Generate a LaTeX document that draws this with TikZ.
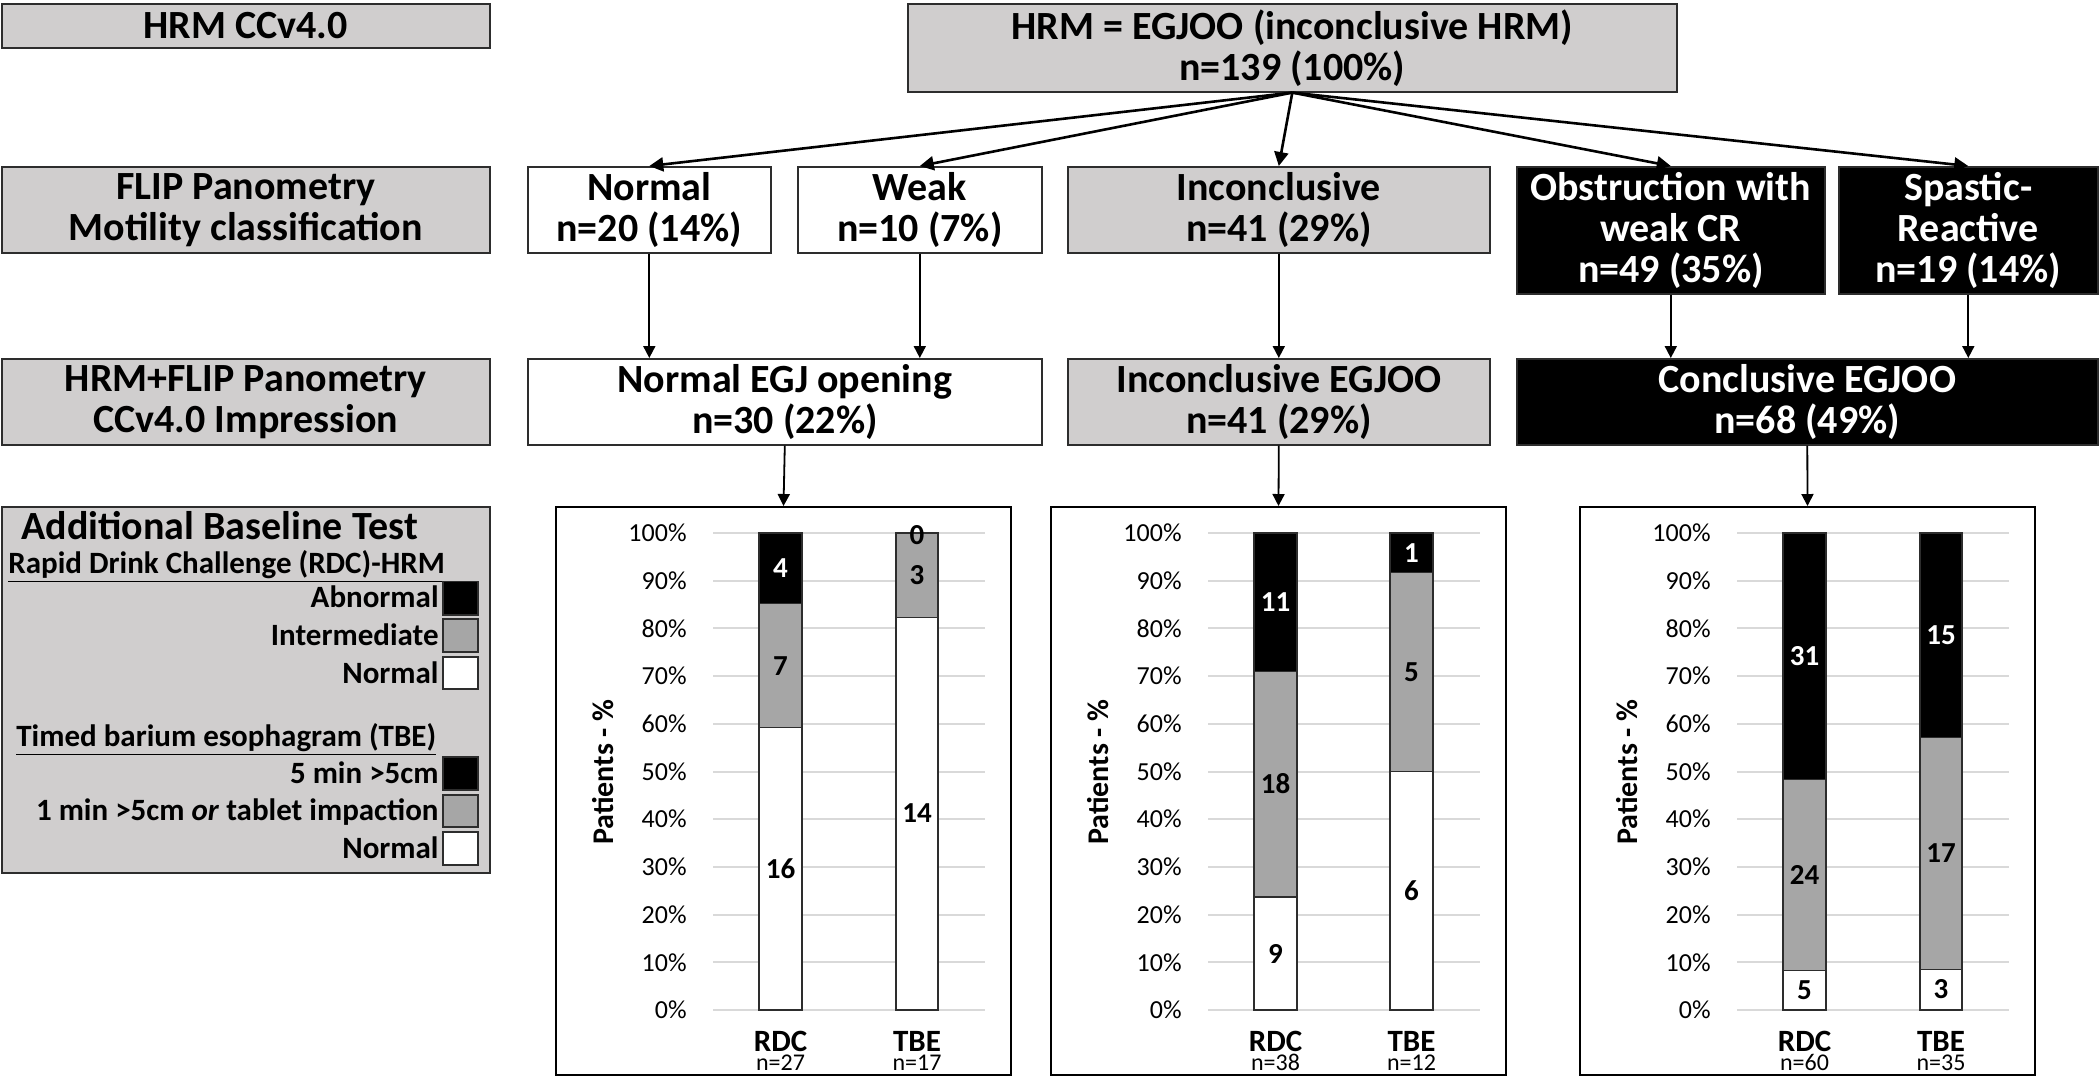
\documentclass[tikz,border=0pt]{standalone}
\usepackage{fontspec}
\setmainfont{Carlito}
\usetikzlibrary{arrows.meta}
\definecolor{boxgray}{RGB}{208,206,206}
\definecolor{bargray}{RGB}{166,166,166}
\definecolor{gridgray}{RGB}{217,217,217}
\definecolor{edgecol}{RGB}{45,45,45}
\newcommand\myseg[5]{\draw[draw=edgecol, line width=0.6pt, fill=#5] (#1,{1010-4.77*#3}) rectangle (#2,{1010-4.77*#4});}
\newcommand\mygrid{%
  \foreach \p in {0,10,...,100}{%
    \draw[gridgray, line width=1pt] (158,{1010-4.77*\p}) -- (430,{1010-4.77*\p});
    \node[ticklab] at (132,{1010-4.77*\p}) {\p\%};
  }%
  \node[ylab] at (48,772) {Patients - \%};
}
\newcommand\mycat[2]{{\fontsize{15.5}{9.5}\selectfont\bfseries #1}\\#2}
\begin{document}
\begin{tikzpicture}[x=0.5pt,y=-0.5pt,
  box/.style={draw=edgecol, line width=0.8pt, anchor=north west, inner sep=0pt, align=center,
    font=\fontsize{20}{20.5}\selectfont\bfseries},
  graybox/.style={box, fill=boxgray},
  whitebox/.style={box, fill=white},
  blackbox/.style={box, fill=black, text=white},
  chartframe/.style={draw=black, line width=1pt, anchor=north west, inner sep=0pt,
    minimum width=227.5pt, minimum height=284pt},
  arr/.style={-{Triangle[length=7pt,width=7pt]}, line width=1.3pt},
  varr/.style={-{Triangle[length=6pt,width=6pt]}, line width=0.9pt},
  ticklab/.style={anchor=east, inner sep=0pt, font=\fontsize{13}{13}\selectfont},
  ylab/.style={rotate=90, inner sep=0pt, font=\fontsize{15}{15}\selectfont\bfseries},
  barlab/.style={inner sep=0pt, font=\fontsize{14.5}{14.5}\selectfont\bfseries},
  wbarlab/.style={barlab, text=white},
  catlab/.style={inner sep=0pt, anchor=north, align=center, font=\fontsize{12}{9.5}\selectfont},
  legtext/.style={inner sep=0pt, font=\fontsize{15.5}{16}\selectfont\bfseries},
  legsq/.style={draw=edgecol, line width=0.8pt}
]
\useasboundingbox (0,0) rectangle (2100,1078);
\fill[white] (0,0) rectangle (2100,1078);

% row 1
\node[graybox, minimum width=244pt, minimum height=22pt] (hrm) at (1,3) {HRM CCv4.0};
\node[graybox, minimum width=384.5pt, minimum height=44pt] (egjoo) at (907,3) {HRM = EGJOO (inconclusive HRM)\\n=139 (100\%)};

% row 2
\node[graybox, minimum width=244pt, minimum height=43pt] (flip) at (1,166) {FLIP Panometry\\Motility classification};
\node[whitebox, minimum width=121.5pt, minimum height=43pt] (normal) at (527,166) {Normal\\n=20 (14\%)};
\node[whitebox, minimum width=122pt, minimum height=43pt] (weak) at (797,166) {Weak\\n=10 (7\%)};
\node[graybox, minimum width=211pt, minimum height=43pt] (incon) at (1067,166) {Inconclusive\\n=41 (29\%)};
\node[blackbox, minimum width=154pt, minimum height=63.5pt] (obstr) at (1516,166) {Obstruction with\\weak CR\\n=49 (35\%)};
\node[blackbox, minimum width=129.5pt, minimum height=63.5pt] (spastic) at (1838,166) {Spastic-\\Reactive\\n=19 (14\%)};

% row 3
\node[graybox, minimum width=244pt, minimum height=43pt] (impr) at (1,358) {HRM+FLIP Panometry\\CCv4.0 Impression};
\node[whitebox, minimum width=257pt, minimum height=43pt] (normalegj) at (527,358) {Normal EGJ opening\\n=30 (22\%)};
\node[graybox, minimum width=211pt, minimum height=43pt] (inconegj) at (1067,358) {Inconclusive EGJOO\\n=41 (29\%)};
\node[blackbox, minimum width=290.5pt, minimum height=43pt] (concl) at (1516,358) {Conclusive EGJOO\\n=68 (49\%)};

% legend
\node[draw=edgecol, line width=0.8pt, fill=boxgray, anchor=north west, inner sep=0pt,
  minimum width=244pt, minimum height=183pt] (legend) at (1,506) {};
\node[anchor=base west, inner sep=0pt, font=\fontsize{20}{20}\selectfont\bfseries] (legtitle) at (21,539) {Additional Baseline Test};
\node[legtext, anchor=base west] (legrdc) at (8,573) {\underline{Rapid Drink Challenge (RDC)-HRM}};
\node[legtext, anchor=base east] (legab) at (439,607.5) {Abnormal};
\node[legtext, anchor=base east] (legint) at (439,645.5) {Intermediate};
\node[legtext, anchor=base east] (legnor) at (439,683) {Normal};
\node[legtext, anchor=base west] (legtbe) at (16,746) {\underline{Timed barium esophagram (TBE)}};
\node[legtext, anchor=base east] (leg5) at (439,783) {5 min >5cm};
\node[legtext, anchor=base east] (leg1) at (439,820.5) {1 min >5cm \textit{or} tablet impaction};
\node[legtext, anchor=base east] (legnor2) at (439,858) {Normal};
\draw[legsq, fill=black] (443,581.5) rectangle (478,615);
\draw[legsq, fill=bargray] (443,619) rectangle (478,652);
\draw[legsq, fill=white] (443,657) rectangle (478,689);
\draw[legsq, fill=black] (443,757) rectangle (478,790);
\draw[legsq, fill=bargray] (443,795) rectangle (478,827);
\draw[legsq, fill=white] (443,832) rectangle (478,865);

% chart frames
\node[chartframe] (c1) at (555,506) {};
\node[chartframe] (c2) at (1050,506) {};
\node[chartframe] (c3) at (1579,506) {};

% connectors
\foreach \t in {normal,weak,incon,obstr,spastic}{
  \draw[arr] (egjoo.south) -- (\t.north);
}
\draw[varr] (normal.south) -- (normal.south |- normalegj.north);
\draw[varr] (weak.south) -- (weak.south |- normalegj.north);
\draw[varr] (incon.south) -- (incon.south |- inconegj.north);
\draw[varr] (obstr.south) -- (obstr.south |- concl.north);
\draw[varr] (spastic.south) -- (spastic.south |- concl.north);
\draw[varr] (normalegj.south) -- (c1.north);
\draw[varr] (inconegj.south) -- (c2.north);
\draw[varr] (concl.south) -- (c3.north);

% chart 1
\begin{scope}[shift={(555,0)}]
  \mygrid
  \myseg{204}{247}{0}{59.26}{white}
  \myseg{204}{247}{59.26}{85.19}{bargray}
  \myseg{204}{247}{85.19}{100}{black}
  \myseg{341}{383}{0}{82.35}{white}
  \myseg{341}{383}{82.35}{100}{bargray}
  \node[barlab] at (225.5,{1010-4.77*29.6}) {16};
  \node[barlab] at (225.5,{1010-4.77*72.2}) {7};
  \node[wbarlab] at (225.5,{1010-4.77*92.6}) {4};
  \node[barlab] at (362,{1010-4.77*41.2}) {14};
  \node[barlab] at (362,{1010-4.77*91.2}) {3};
  \node[barlab] at (362,{1010-4.77*99.5}) {0};
  \node[catlab] (c1rdc) at (225.5,1031) {\mycat{RDC}{n=27}};
  \node[catlab] (c1tbe) at (362,1031) {\mycat{TBE}{n=17}};
\end{scope}

% chart 2
\begin{scope}[shift={(1050,0)}]
  \mygrid
  \myseg{204}{247}{0}{23.68}{white}
  \myseg{204}{247}{23.68}{71.05}{bargray}
  \myseg{204}{247}{71.05}{100}{black}
  \myseg{340}{383}{0}{50}{white}
  \myseg{340}{383}{50}{91.67}{bargray}
  \myseg{340}{383}{91.67}{100}{black}
  \node[barlab] at (225.5,{1010-4.77*11.8}) {9};
  \node[barlab] at (225.5,{1010-4.77*47.4}) {18};
  \node[wbarlab] at (225.5,{1010-4.77*85.5}) {11};
  \node[barlab] at (361.5,{1010-4.77*25}) {6};
  \node[barlab] at (361.5,{1010-4.77*70.8}) {5};
  \node[wbarlab] at (361.5,{1010-4.77*95.8}) {1};
  \node[catlab] (c2rdc) at (225.5,1031) {\mycat{RDC}{n=38}};
  \node[catlab] (c2tbe) at (361.5,1031) {\mycat{TBE}{n=12}};
\end{scope}

% chart 3
\begin{scope}[shift={(1579,0)}]
  \mygrid
  \myseg{204}{247}{0}{8.33}{white}
  \myseg{204}{247}{8.33}{48.33}{bargray}
  \myseg{204}{247}{48.33}{100}{black}
  \myseg{341}{383}{0}{8.57}{white}
  \myseg{341}{383}{8.57}{57.14}{bargray}
  \myseg{341}{383}{57.14}{100}{black}
  \node[barlab] at (225.5,{1010-4.77*4.17}) {5};
  \node[barlab] at (225.5,{1010-4.77*28.3}) {24};
  \node[wbarlab] at (225.5,{1010-4.77*74.2}) {31};
  \node[barlab] at (362,{1010-4.77*4.29}) {3};
  \node[barlab] at (362,{1010-4.77*32.86}) {17};
  \node[wbarlab] at (362,{1010-4.77*78.6}) {15};
  \node[catlab] (c3rdc) at (225.5,1031) {\mycat{RDC}{n=60}};
  \node[catlab] (c3tbe) at (362,1031) {\mycat{TBE}{n=35}};
\end{scope}
\end{tikzpicture}
\end{document}
